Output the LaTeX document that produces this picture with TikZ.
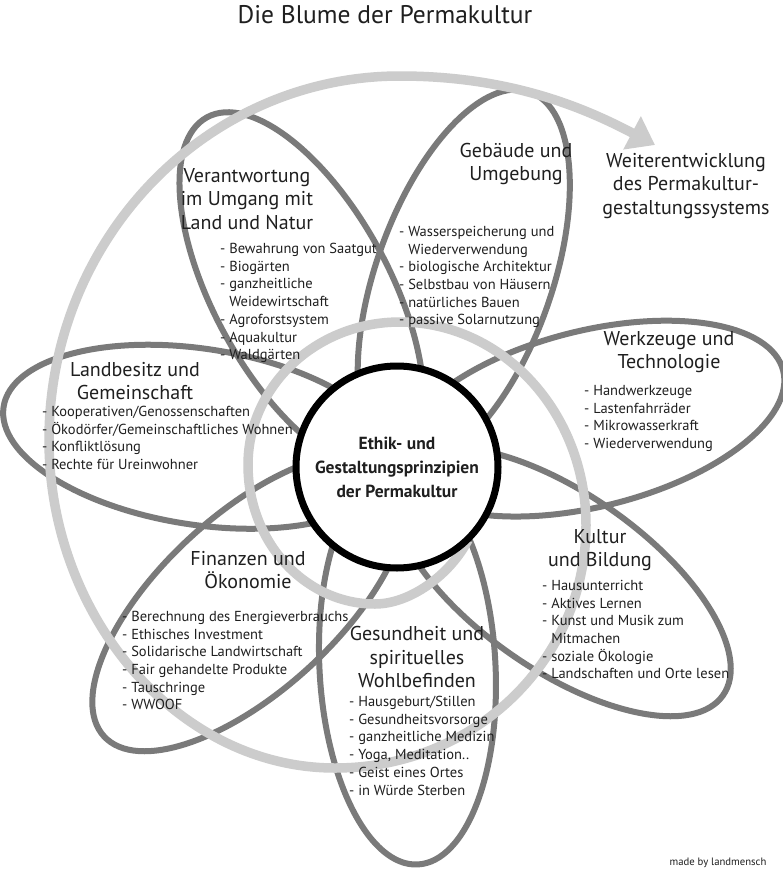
\documentclass[tikz,border=0pt]{standalone}
\usepackage{fontspec}
\setmainfont{PT Sans}
\usetikzlibrary{arrows.meta}

\definecolor{petalgray}{gray}{0.48}
\definecolor{spiralgray}{gray}{0.80}
\definecolor{inkgray}{gray}{0.12}

\tikzset{
	petal/.style={draw=petalgray, line width=6pt},
	spiral/.style={draw=spiralgray, line width=9.5pt, -{Triangle[width=36pt,length=26pt]}},
	heading/.style={align=center, inner sep=0pt, text=inkgray, font=\fontsize{20}{23.5}\selectfont},
	itemlist/.style={align=left, anchor=north west, inner sep=0pt, text=inkgray, font=\fontsize{14.5}{17.7}\selectfont},
}

\begin{document}
\begin{tikzpicture}[y=-1pt,x=1pt]
	\newcommand\Petal[1]{\draw[petal, shift={(flower)}, rotate=#1] (200,0) ellipse [x radius=198, y radius=88];}
	\newcommand\Ind{\phantom{- }}

	\fill[white] (0,0) rectangle (783,870);
	\useasboundingbox (0,0) rectangle (783,870);

	\coordinate (flower) at (397,467);

	% petals
	\Petal{118.5}
	\Petal{70.5}
	\Petal{14}
	\Petal{-35}
	\Petal{-87}
	\Petal{-137.4}
	\Petal{171.3}

	% spiral arrow, quarter by quarter
	\draw[spiral] (468,540) .. controls (450,575) and (410,604) .. (375,604)
		.. controls (305,604) and (248,542) .. (248,465)
		.. controls (248,386) and (316,322) .. (400,322)
		.. controls (503,322) and (586,413) .. (586,525)
		.. controls (586,659) and (476,768) .. (335,768)
		.. controls (178,768) and (49,617) .. (49,440)
		.. controls (49,239) and (206,76) .. (400,76)
		.. controls (510,76) and (585,108) .. (655,145);

	% centre
	\node[draw=black, fill=white, circle, line width=7pt, minimum size=202, align=center,
		text=inkgray, font=\bfseries\fontsize{17.5}{24}\selectfont] (ethik) at (flower)
		{Ethik- und\\Gestaltungsprinzipien\\der Permakultur};

	\node[inner sep=0pt, text=inkgray, font=\fontsize{25.5}{28}\selectfont] (title) at (385,15) {Die Blume der Permakultur};

	\node[heading] (land) at (247,199) {Verantwortung\\im Umgang mit\\Land und Natur};
	\node[itemlist] (landlist) at (220,243) {- Bewahrung von Saatgut\\- Biogärten\\- ganzheitliche\\\Ind Weidewirtschaft\\- Agroforstsystem\\- Aquakultur\\- Waldgärten};

	\node[heading] (bau) at (516,164) {Gebäude und\\Umgebung};
	\node[itemlist] (baulist) at (399,226) {- Wasserspeicherung und\\\Ind Wiederverwendung\\- biologische Architektur\\- Selbstbau von Häusern\\- natürliches Bauen\\- passive Solarnutzung};

	\node[heading] (weiter) at (686,186) {Weiterentwicklung\\des Permakultur-\\gestaltungssystems};

	\node[heading] (werk) at (669,352) {Werkzeuge und\\Technologie};
	\node[itemlist] (werklist) at (584,385) {- Handwerkzeuge\\- Lastenfahrräder\\- Mikrowasserkraft\\- Wiederverwendung};

	\node[heading] (kultur) at (600,550) {Kultur\\und Bildung};
	\node[itemlist] (kulturlist) at (542,580) {- Hausunterricht\\- Aktives Lernen\\- Kunst und Musik zum\\\Ind Mitmachen\\- soziale Ökologie\\- Landschaften und Orte lesen};

	\node[heading] (gesund) at (417,657) {Gesundheit und\\spirituelles\\Wohlbefinden};
	\node[itemlist] (gesundlist) at (349,696) {- Hausgeburt/Stillen\\- Gesundheitsvorsorge\\- ganzheitliche Medizin\\- Yoga, Meditation..\\- Geist eines Ortes\\- in Würde Sterben};

	\node[heading] (finanz) at (248,570) {Finanzen und\\Ökonomie};
	\node[itemlist] (finanzlist) at (122,611) {- Berechnung des Energieverbrauchs\\- Ethisches Investment\\- Solidarische Landwirtschaft\\- Fair gehandelte Produkte\\- Tauschringe\\- WWOOF};

	\node[heading] (besitz) at (135,381) {Landbesitz und\\Gemeinschaft};
	\node[itemlist] (besitzlist) at (42,406) {- Kooperativen/Genossenschaften\\- Ökodörfer/Gemeinschaftliches Wohnen\\- Konfliktlösung\\- Rechte für Ureinwohner};

	\node[inner sep=0pt, text=inkgray, font=\fontsize{10.7}{12}\selectfont] (credit) at (718,863) {made by landmensch};
\end{tikzpicture}
\end{document}
